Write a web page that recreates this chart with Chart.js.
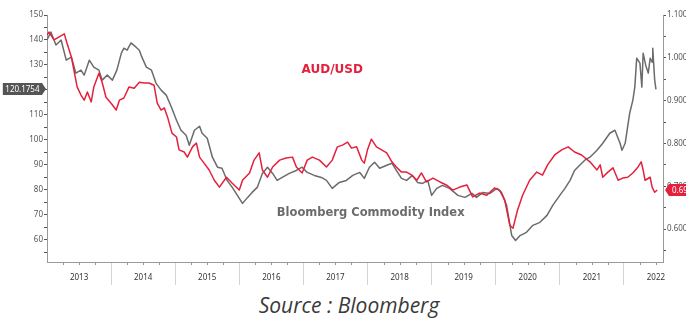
<!DOCTYPE html>
<html>
<head>
<meta charset="utf-8">
<script src="https://cdn.jsdelivr.net/npm/chart.js@4.4.1/dist/chart.umd.min.js"></script>
<style>
  html, body { margin: 0; padding: 0; background: #fff; overflow: hidden; }
  #source { width: 686px; height: 30px; line-height: 30px; text-align: center; padding-left: 12px; box-sizing: border-box;
    font-family: "Open Sans", sans-serif; font-style: italic; font-size: 21px; color: #3a3a3a; }
</style>
</head>
<body>
<canvas id="canvas" width="686" height="290"></canvas>
<div id="source">Source : Bloomberg</div>
<script>
// Bloomberg Commodity Index (left axis)
const bcomDates = [
  2013.00, 2013.06, 2013.14, 2013.22, 2013.30, 2013.38, 2013.45, 2013.53, 2013.58, 2013.66,
  2013.73, 2013.81, 2013.86, 2013.94, 2014.02, 2014.09, 2014.16, 2014.20, 2014.25, 2014.31,
  2014.39, 2014.44, 2014.48, 2014.55, 2014.63, 2014.70, 2014.78, 2014.86, 2014.94, 2015.02,
  2015.09, 2015.17, 2015.22, 2015.30, 2015.38, 2015.42, 2015.50, 2015.58, 2015.66, 2015.73,
  2015.81, 2015.89, 2015.97, 2016.05, 2016.13, 2016.20, 2016.28, 2016.36, 2016.44, 2016.52,
  2016.59, 2016.67, 2016.78, 2016.89, 2016.98, 2017.06, 2017.17, 2017.28, 2017.36, 2017.45,
  2017.56, 2017.67, 2017.77, 2017.88, 2017.95, 2018.03, 2018.11, 2018.19, 2018.30, 2018.38,
  2018.45, 2018.53, 2018.61, 2018.70, 2018.78, 2018.86, 2018.94, 2019.00, 2019.08, 2019.17,
  2019.28, 2019.41, 2019.52, 2019.63, 2019.70, 2019.80, 2019.91, 2020.02, 2020.09, 2020.17,
  2020.25, 2020.31, 2020.38, 2020.48, 2020.58, 2020.69, 2020.80, 2020.89, 2021.00, 2021.08,
  2021.16, 2021.23, 2021.31, 2021.39, 2021.47, 2021.58, 2021.67, 2021.78, 2021.86, 2021.94,
  2021.97, 2022.02, 2022.05, 2022.09, 2022.14, 2022.17, 2022.20, 2022.25, 2022.28, 2022.30,
  2022.34, 2022.38, 2022.41, 2022.44, 2022.45, 2022.48, 2022.50
];
const bcomValues = [
  140.0, 143.2, 138.0, 140.0, 131.9, 133.1, 126.7, 127.9, 125.9, 131.9,
  129.1, 127.9, 123.9, 125.9, 123.9, 127.9, 134.7, 136.7, 135.9, 138.8,
  137.1, 135.9, 133.1, 129.1, 127.9, 122.7, 119.9, 117.9, 113.1, 107.8,
  103.8, 101.8, 97.8, 103.8, 105.4, 102.6, 100.6, 93.0, 89.0, 88.6,
  83.7, 80.9, 77.7, 74.5, 76.9, 78.9, 80.9, 86.5, 89.0, 86.5,
  83.7, 84.9, 86.5, 87.7, 89.0, 86.9, 85.7, 84.9, 83.7, 80.5,
  82.9, 83.7, 85.7, 86.9, 84.5, 89.0, 91.0, 88.6, 89.8, 90.6,
  87.7, 84.5, 83.7, 85.7, 82.9, 82.5, 83.7, 77.7, 80.5, 81.7,
  80.5, 77.7, 76.9, 78.5, 76.9, 78.9, 78.5, 80.5, 78.9, 73.7,
  61.6, 59.6, 61.6, 62.9, 65.7, 66.9, 69.7, 73.7, 77.7, 80.5,
  83.7, 87.7, 89.8, 91.8, 93.0, 95.8, 98.6, 102.6, 103.8, 98.6,
  95.8, 98.6, 103.8, 110.6, 115.9, 121.1, 132.7, 130.7, 121.1, 134.7,
  129.9, 126.7, 132.7, 131.1, 136.7, 124.0, 120.1754
];

// AUD/USD (right axis)
const audDates = [
  2013.00, 2013.03, 2013.11, 2013.19, 2013.27, 2013.31, 2013.38, 2013.42, 2013.47, 2013.53,
  2013.58, 2013.63, 2013.69, 2013.73, 2013.81, 2013.86, 2013.92, 2014.00, 2014.08, 2014.13,
  2014.20, 2014.28, 2014.36, 2014.44, 2014.52, 2014.59, 2014.67, 2014.72, 2014.78, 2014.83,
  2014.88, 2014.95, 2015.02, 2015.06, 2015.14, 2015.19, 2015.27, 2015.33, 2015.38, 2015.45,
  2015.53, 2015.61, 2015.69, 2015.80, 2015.89, 2016.00, 2016.05, 2016.16, 2016.23, 2016.31,
  2016.36, 2016.44, 2016.52, 2016.63, 2016.73, 2016.83, 2016.89, 2016.98, 2017.06, 2017.14,
  2017.25, 2017.36, 2017.45, 2017.53, 2017.61, 2017.69, 2017.75, 2017.83, 2017.91, 2017.95,
  2018.00, 2018.06, 2018.14, 2018.22, 2018.30, 2018.38, 2018.45, 2018.53, 2018.61, 2018.69,
  2018.77, 2018.84, 2018.92, 2019.02, 2019.13, 2019.23, 2019.33, 2019.44, 2019.55, 2019.64,
  2019.75, 2019.86, 2019.98, 2020.06, 2020.14, 2020.22, 2020.27, 2020.34, 2020.42, 2020.53,
  2020.64, 2020.73, 2020.81, 2020.92, 2021.03, 2021.13, 2021.23, 2021.34, 2021.47, 2021.58,
  2021.63, 2021.67, 2021.75, 2021.83, 2021.91, 2021.98, 2022.06, 2022.14, 2022.22, 2022.27,
  2022.30, 2022.33, 2022.41, 2022.44, 2022.48, 2022.52
];
const audValues = [
  1.053, 1.060, 1.042, 1.049, 1.056, 1.035, 1.002, 0.971, 0.932, 0.913,
  0.901, 0.920, 0.897, 0.932, 0.964, 0.943, 0.908, 0.894, 0.878, 0.901,
  0.906, 0.932, 0.929, 0.943, 0.941, 0.941, 0.936, 0.894, 0.878, 0.883,
  0.862, 0.824, 0.815, 0.785, 0.780, 0.768, 0.792, 0.801, 0.768, 0.754,
  0.738, 0.714, 0.698, 0.721, 0.707, 0.691, 0.714, 0.731, 0.761, 0.778,
  0.738, 0.721, 0.745, 0.761, 0.766, 0.768, 0.745, 0.731, 0.761, 0.768,
  0.761, 0.745, 0.761, 0.792, 0.796, 0.803, 0.789, 0.792, 0.761, 0.754,
  0.785, 0.810, 0.792, 0.785, 0.778, 0.757, 0.745, 0.733, 0.733, 0.726,
  0.714, 0.731, 0.710, 0.719, 0.710, 0.703, 0.691, 0.698, 0.703, 0.675,
  0.684, 0.679, 0.696, 0.691, 0.668, 0.609, 0.602, 0.644, 0.679, 0.714,
  0.733, 0.726, 0.750, 0.773, 0.785, 0.792, 0.780, 0.773, 0.757, 0.738,
  0.750, 0.721, 0.733, 0.743, 0.714, 0.719, 0.721, 0.731, 0.745, 0.757,
  0.738, 0.714, 0.721, 0.698, 0.686, 0.6913
];

const yearLabels = ['2013', '2014', '2015', '2016', '2017', '2018', '2019', '2020', '2021', '2022'];

const RED = '#e4203d';
const GREY = '#6b6b6b';
const tickFont = { family: '"Noto Sans", sans-serif', size: 8 };

function points(xs, ys) {
  return xs.map((x, i) => ({ x: x, y: ys[i] }));
}

// year separators under the axis, labels in the middle of each year
function yearTicks(scale) {
  const ticks = [];
  for (let i = 0; i < yearLabels.length; i++) {
    const y = Number(yearLabels[i]);
    if (y > scale.min) ticks.push({ value: y });
    if (y + 0.5 < scale.max) ticks.push({ value: y + 0.5 });
  }
  scale.ticks = ticks;
}

// quarter ticks, flags for last values, series names
const extras = {
  id: 'extras',
  afterDraw(chart) {
    const ctx = chart.ctx;
    const x = chart.scales.x, yl = chart.scales.y, yr = chart.scales.y1;
    const area = chart.chartArea;
    ctx.save();

    ctx.strokeStyle = '#999';
    ctx.lineWidth = 1;
    for (let i = 1; 2013 + i * 0.25 < x.max; i++) {
      if (i % 4 === 0) continue;
      const px = Math.round(x.getPixelForValue(2013 + i * 0.25)) + 0.5;
      ctx.beginPath();
      ctx.moveTo(px, area.bottom);
      ctx.lineTo(px, area.bottom + 3);
      ctx.stroke();
    }

    ctx.font = 'bold 12px "DejaVu Sans", sans-serif';
    ctx.textAlign = 'center';
    ctx.textBaseline = 'middle';
    ctx.fillStyle = RED;
    ctx.fillText('AUD/USD', x.getPixelForValue(2017.45), yl.getPixelForValue(127.9));
    ctx.font = 'bold 11.5px "DejaVu Sans", sans-serif';
    ctx.fillStyle = GREY;
    ctx.fillText('Bloomberg Commodity Index', x.getPixelForValue(2018.05), yl.getPixelForValue(70.5));

    // left flag (BCOM)
    ctx.font = '8px "Noto Sans", sans-serif';
    const lastB = bcomValues[bcomValues.length - 1];
    const lt = lastB.toFixed(4);
    let py = Math.round(yl.getPixelForValue(lastB));
    let tip = area.left - 1;
    let w = ctx.measureText(lt).width + 5;
    ctx.fillStyle = '#555';
    ctx.beginPath();
    ctx.moveTo(tip, py);
    ctx.lineTo(tip - 4, py - 6);
    ctx.lineTo(tip - 4 - w, py - 6);
    ctx.lineTo(tip - 4 - w, py + 6);
    ctx.lineTo(tip - 4, py + 6);
    ctx.closePath();
    ctx.fill();
    ctx.fillStyle = '#fff';
    ctx.textAlign = 'left';
    ctx.fillText(lt, tip - 4 - w + 2.5, py + 0.5);

    // right flag (AUD)
    const lastA = audValues[audValues.length - 1];
    const rt = lastA.toFixed(4);
    py = Math.round(yr.getPixelForValue(lastA));
    tip = area.right + 2;
    w = ctx.measureText(rt).width + 6;
    ctx.fillStyle = RED;
    ctx.beginPath();
    ctx.moveTo(tip, py);
    ctx.lineTo(tip + 4, py - 6);
    ctx.lineTo(tip + 4 + w, py - 6);
    ctx.lineTo(tip + 4 + w, py + 6);
    ctx.lineTo(tip + 4, py + 6);
    ctx.closePath();
    ctx.fill();
    ctx.fillStyle = '#fff';
    ctx.fillText(rt, tip + 7, py + 0.5);

    ctx.restore();
  }
};

const data = {
  datasets: [
    {
      label: 'AUD/USD',
      data: points(audDates, audValues),
      borderColor: RED,
      borderWidth: 1.5,
      yAxisID: 'y1',
    },
    {
      label: 'Bloomberg Commodity Index',
      data: points(bcomDates, bcomValues),
      borderColor: GREY,
      borderWidth: 1.5,
      yAxisID: 'y',
    },
  ],
};

const options = {
  responsive: false,
  animation: false,
  layout: { padding: { top: 15, left: 0, right: 0, bottom: 0 } },
  elements: { point: { radius: 0 }, line: { tension: 0, borderJoinStyle: 'round' } },
  plugins: { legend: { display: false }, tooltip: { enabled: false } },
  scales: {
    x: {
      type: 'linear',
      min: 2013,
      max: 2022.61,
      afterBuildTicks: yearTicks,
      afterFit: (s) => { s.height = 28; },
      border: { display: true, color: '#999' },
      grid: {
        drawOnChartArea: false,
        tickLength: 23,
        color: (c) => (c.tick && Number.isInteger(c.tick.value) ? '#d4d4d4' : 'rgba(0,0,0,0)'),
      },
      ticks: {
        autoSkip: false,
        maxRotation: 0,
        padding: -12,
        color: '#333',
        font: tickFont,
        callback: (v) => (Number.isInteger(v) ? '' : String(Math.floor(v))),
      },
    },
    y: {
      position: 'left',
      min: 51,
      max: 150,
      afterBuildTicks: (s) => {
        s.ticks = [];
        for (let v = 55; v <= 150; v += 5) s.ticks.push({ value: v });
      },
      afterFit: (s) => { s.width = 47; },
      border: { display: true, color: '#999' },
      grid: { drawOnChartArea: false, tickLength: 3, color: '#555' },
      ticks: {
        padding: 1,
        color: '#555',
        font: tickFont,
        callback: (v) => (v % 10 === 0 ? v : ''),
      },
    },
    y1: {
      position: 'right',
      min: 0.523,
      max: 1.1,
      afterBuildTicks: (s) => {
        s.ticks = [];
        for (let i = 11; i <= 22; i++) s.ticks.push({ value: i * 5 / 100 });
      },
      afterFit: (s) => { s.width = 23; },
      border: { display: true, color: '#999' },
      grid: { drawOnChartArea: false, tickLength: 3, color: '#555' },
      ticks: {
        padding: 1,
        color: '#555',
        font: tickFont,
        callback: (v) => (Math.round(v * 100) % 10 === 0 ? v.toFixed(3) : ''),
      },
    },
  },
};

const canvas = document.getElementById('canvas');
const chart = new Chart(canvas, {
  type: 'line',
  data: data,
  options: options,
  plugins: [extras],
});
</script>
</body>
</html>
